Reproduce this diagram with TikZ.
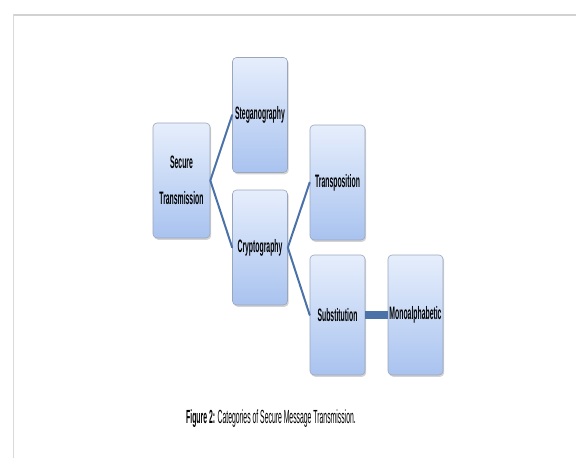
\documentclass[tikz,border=0pt]{standalone}
\usepackage{fontspec}
\setmainfont{Liberation Sans}
\newfontfamily\narrowfont[FakeStretch=0.38]{Liberation Sans}
\newfontfamily\captionfont[FakeStretch=0.36]{Liberation Sans}
\usetikzlibrary{shadows}
\definecolor{boxtop}{HTML}{E6EEFC}
\definecolor{boxbot}{HTML}{A9C3EF}
\definecolor{boxline}{HTML}{9AA6BC}
\definecolor{linkblue}{HTML}{4A72A8}
\begin{document}
\begin{tikzpicture}[x=1pt, y=-1pt, line join=round, line cap=round,
	catbox/.style={draw=boxline, line width=.6pt, rounded corners=4pt, top color=boxtop, bottom color=boxbot,
		drop shadow={shadow xshift=1.2pt, shadow yshift=-1.8pt, opacity=.35},
		minimum width=55pt, minimum height=115pt, inner sep=1pt, align=center,
		font=\narrowfont\bfseries\fontsize{18}{36}\selectfont},
	link/.style={linkblue, line width=2pt}]
	\useasboundingbox (0,0) rectangle (576,460);
	% frame of the page
	\draw[gray!35, line width=2.5pt, line cap=butt] (13.5,15) -- (576,15);
	\draw[gray!30, line width=1pt, line cap=butt] (13.5,14) -- (13.5,458);
	% boxes
	\node[catbox, minimum width=57pt] (secure) at (181.5,180.5) {Secure\\Transmission};
	\node[catbox] (steg) at (260,115) {Steganography};
	\node[catbox] (crypto) at (260,247.5) {Cryptography};
	\node[catbox] (transp) at (337.5,182.5) {Transposition};
	\node[catbox, minimum height=120pt] (subst) at (337.5,315) {Substitution};
	\node[catbox, minimum height=120pt] (mono) at (415.5,315) {Monoalphabetic};
	% links
	\draw[link] (steg.west) -- (secure.east) -- (crypto.west);
	\draw[link] (transp.west) -- (crypto.east) -- (subst.west);
	\draw[link, line width=8pt, line cap=butt] (subst.east) -- (mono.west);
	% caption
	\node[font=\captionfont\fontsize{19}{22}\selectfont, inner sep=0pt] (caption) at (271,419)
		{\textbf{Figure 2:} Categories of Secure Message Transmission.};
\end{tikzpicture}
\end{document}
